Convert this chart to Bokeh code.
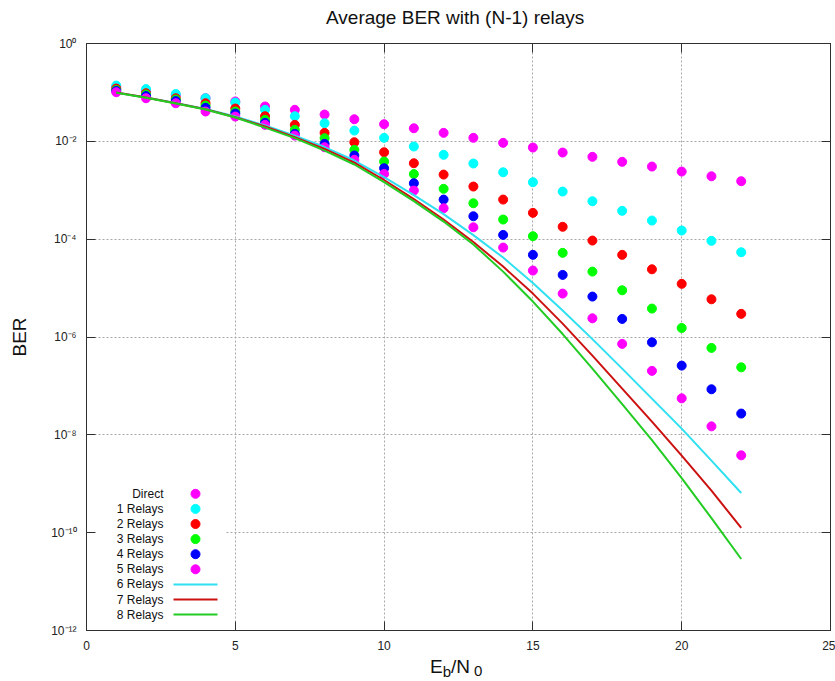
from bokeh.plotting import figure
from bokeh.layouts import column
from bokeh.models import (Range1d, LinearScale, LinearAxis, LogAxis, FixedTicker,
                          CustomJSTickFormatter, Div)
from bokeh.core.properties import value
from bokeh.embed import file_html
from bokeh.resources import INLINE

FONT = "Liberation Sans"

# ---------------- data ----------------
snr = list(range(1, 23))  # Eb/N0 in dB

direct = [0.126, 0.107, 0.0885, 0.0761, 0.0652, 0.0515, 0.0441, 0.0353, 0.0283, 0.0224, 0.0185,
          0.0149, 0.0118, 0.00931, 0.00747, 0.00590, 0.00482, 0.00381, 0.00305, 0.00241, 0.00193, 0.00153]
relay1 = [0.138, 0.117, 0.0928, 0.0761, 0.0621, 0.0441, 0.0326, 0.0234, 0.0166, 0.0118, 0.00783,
          0.00530, 0.00352, 0.00233, 0.00146, 9.40e-4, 5.96e-4, 3.79e-4, 2.40e-4, 1.50e-4, 9.23e-5, 5.40e-5]
relay2 = [0.120, 0.0963, 0.0761, 0.0601, 0.0469, 0.0326, 0.0217, 0.0149, 0.00959, 0.00598, 0.00357,
          0.00209, 0.00119, 6.45e-4, 3.45e-4, 1.79e-4, 9.36e-5, 4.78e-5, 2.42e-5, 1.22e-5, 5.9e-6, 2.97e-6]
relay3 = [0.112, 0.0906, 0.0716, 0.0540, 0.0407, 0.0275, 0.0172, 0.0116, 0.00670, 0.00386, 0.00214,
          0.00107, 5.42e-4, 2.52e-4, 1.15e-4, 5.25e-5, 2.17e-5, 9.02e-6, 3.81e-6, 1.53e-6, 5.98e-7, 2.40e-7]
relay4 = [0.107, 0.0844, 0.0667, 0.0484, 0.0370, 0.0239, 0.0142, 0.00889, 0.00513, 0.00282, 0.00139,
          6.45e-4, 2.94e-4, 1.22e-4, 4.78e-5, 1.86e-5, 6.70e-6, 2.34e-6, 7.79e-7, 2.60e-7, 8.53e-8, 2.72e-8]
relay5 = [0.101, 0.0761, 0.0601, 0.0407, 0.0321, 0.0217, 0.0131, 0.00757, 0.00419, 0.00216, 9.86e-4,
          4.28e-4, 1.75e-4, 6.73e-5, 2.28e-5, 7.72e-6, 2.41e-6, 7.23e-7, 2.03e-7, 5.57e-8, 1.49e-8, 3.81e-9]
relay6 = [0.0995, 0.0786, 0.0607, 0.0458, 0.0321, 0.0210, 0.0131, 0.00764, 0.00405, 0.00186, 7.98e-4,
          3.26e-4, 1.21e-4, 4.21e-5, 1.27e-5, 3.47e-6, 9.06e-7, 2.26e-7, 5.50e-8, 1.34e-8, 2.97e-9, 6.48e-10]
relay7 = [0.0995, 0.0786, 0.0601, 0.0453, 0.0311, 0.0201, 0.0122, 0.00703, 0.00368, 0.00162, 6.61e-4,
          2.52e-4, 8.73e-5, 2.75e-5, 7.72e-6, 1.88e-6, 4.17e-7, 8.81e-8, 1.86e-8, 3.76e-9, 7.22e-10, 1.25e-10]
relay8 = [0.0981, 0.0776, 0.0593, 0.0447, 0.0307, 0.0191, 0.0116, 0.00648, 0.00336, 0.00147, 6.01e-4,
          2.29e-4, 7.76e-5, 2.17e-5, 5.30e-6, 1.15e-6, 2.26e-7, 4.25e-8, 7.80e-9, 1.30e-9, 1.98e-10, 2.90e-11]

series_names = ["Direct", "1 Relays", "2 Relays", "3 Relays", "4 Relays", "5 Relays",
                "6 Relays", "7 Relays", "8 Relays"]

x_ticks = [0, 5, 10, 15, 20, 25]
x_tick_labels = ["0", "5", "10", "15", "20", "25"]
y_ticks = [1e0, 1e-2, 1e-4, 1e-6, 1e-8, 1e-10, 1e-12]
y_tick_labels = ["10\u2070", "10\u207b\u00b2", "10\u207b\u2074", "10\u207b\u2076", "10\u207b\u2078",
                 "10\u207b\u00b9\u2070", "10\u207b\u00b9\u00b2"]

title_text = "Average BER with (N-1) relays"
y_title = "BER"
x_title_html = ("E<sub style='font-size:15px;line-height:0;vertical-align:-4px'>b</sub>/N"
                "<sub style='font-size:15px;line-height:0;vertical-align:-3px;margin-left:4px'>0</sub>")

# ---------------- styles ----------------
marker_series = [direct, relay1, relay2, relay3, relay4, relay5]
marker_colors = ["#ff00ff", "#00ffff", "#ff0000", "#00ff00", "#0000ff", "#ff00ff"]
line_series = [relay6, relay7, relay8]
line_colors = ["#2ee0f0", "#cc1111", "#22cc22"]


def fmt(vals, labs):
    return CustomJSTickFormatter(args=dict(tvals=vals, tlabs=labs), code="""
        for (let i = 0; i < tvals.length; i++) {
            const t = tvals[i];
            if (t === tick || Math.abs(t - tick) <= 1e-6 * Math.abs(t)) { return tlabs[i]; }
        }
        return "";
    """)


blank = CustomJSTickFormatter(code="return '';")

p = figure(width=835, height=625, x_range=Range1d(0, 25), y_range=Range1d(1e-12, 1),
           y_axis_type="log", output_backend="svg", toolbar_location=None,
           min_border_left=86, min_border_right=5, min_border_top=13, min_border_bottom=25,
           margin=(0, 0, 0, 0))
p.background_fill_color = "white"
p.border_fill_color = "white"
p.outline_line_color = "#303030"
p.outline_line_width = 1

xa = p.below[0]
ya = p.left[0]
xa.ticker = FixedTicker(ticks=x_ticks)
xa.formatter = fmt(x_ticks, x_tick_labels)
ya.ticker = FixedTicker(ticks=y_ticks)
ya.formatter = fmt(y_ticks, y_tick_labels)
for ax in (xa, ya):
    ax.major_tick_in = 9
    ax.major_tick_out = 0
    ax.minor_tick_line_color = None
    ax.major_tick_line_color = "#303030"
    ax.axis_line_color = "#303030"
    ax.major_label_text_font = FONT
    ax.major_label_text_font_size = "12px"
    ax.major_label_text_color = "#222222"
    ax.major_label_standoff = 10
ya.axis_label = y_title
ya.axis_label_text_font = FONT
ya.axis_label_text_font_size = "19px"
ya.axis_label_text_font_style = "normal"
ya.axis_label_text_color = "#111111"
ya.axis_label_standoff = 18

top = LinearAxis(ticker=FixedTicker(ticks=x_ticks), formatter=blank, major_tick_in=9, major_tick_out=0,
                 minor_tick_line_color=None, major_label_standoff=0, axis_line_color="#303030",
                 major_tick_line_color="#303030")
right = LogAxis(ticker=FixedTicker(ticks=y_ticks), formatter=blank, major_tick_in=9, major_tick_out=0,
                minor_tick_line_color=None, major_label_standoff=0, axis_line_color="#303030",
                major_tick_line_color="#303030")
p.add_layout(top, "above")
p.add_layout(right, "right")

p.xgrid.ticker = FixedTicker(ticks=x_ticks)
p.ygrid.ticker = FixedTicker(ticks=y_ticks)
for g in (p.xgrid, p.ygrid):
    g.grid_line_color = "#a8a8a8"
    g.grid_line_dash = "2 2"
    g.grid_line_width = 1

# pixel-like ranges for the key (legend) area
p.extra_x_ranges = {"px": Range1d(0, 744)}
p.extra_y_ranges = {"py": Range1d(0, 587)}
p.extra_x_scales = {"px": LinearScale()}
p.extra_y_scales = {"py": LinearScale()}

# key background (gnuplot clears the key area)
p.quad(left=[0], right=[139], bottom=[4], top=[150], x_range_name="px", y_range_name="py",
       fill_color="white", line_color=None)

# data
for ys, c in zip(marker_series, marker_colors):
    p.scatter(snr, ys, marker="circle", size=9, fill_color=c, line_color=c)
for ys, c in zip(line_series, line_colors):
    p.line(snr, ys, line_color=c, line_width=2)

# key
key_rows = [136.7, 121.6, 106.5, 91.4, 76.3, 61.2, 46.1, 31.0, 15.9]
p.text(x=[77] * len(series_names), y=key_rows, text=series_names, x_range_name="px", y_range_name="py",
       text_align="right", text_baseline="middle", text_font=value(FONT), text_font_size="12px",
       text_color="#111111")
for i, c in enumerate(marker_colors):
    p.scatter([109], [key_rows[i]], marker="circle", size=9, fill_color=c, line_color=c,
              x_range_name="px", y_range_name="py")
for j, c in enumerate(line_colors):
    r = key_rows[6 + j]
    p.line([87, 131], [r, r], line_color=c, line_width=2, x_range_name="px", y_range_name="py")

# chart title above the plot
title_div = Div(text=title_text, width=835, height=30, margin=(0, 0, 0, 0),
                styles={"padding-left": "326px", "padding-top": "8px", "font-family": FONT,
                        "font-size": "19px", "line-height": "19px", "color": "#111111",
                        "white-space": "nowrap"})

# x-axis title E_b/N_0 with real subscripts, right under the plot
xtitle = Div(text=x_title_html, width=835, height=26, margin=(0, 0, 0, 0),
             styles={"padding-left": "430px", "font-family": FONT, "font-size": "19px",
                     "line-height": "19px", "color": "#111111", "white-space": "nowrap",
                     "padding-top": "2px"})

layout = column(title_div, p, xtitle, spacing=0, margin=(0, 0, 0, 0))
open("out.html", "w").write(file_html(layout, INLINE))
